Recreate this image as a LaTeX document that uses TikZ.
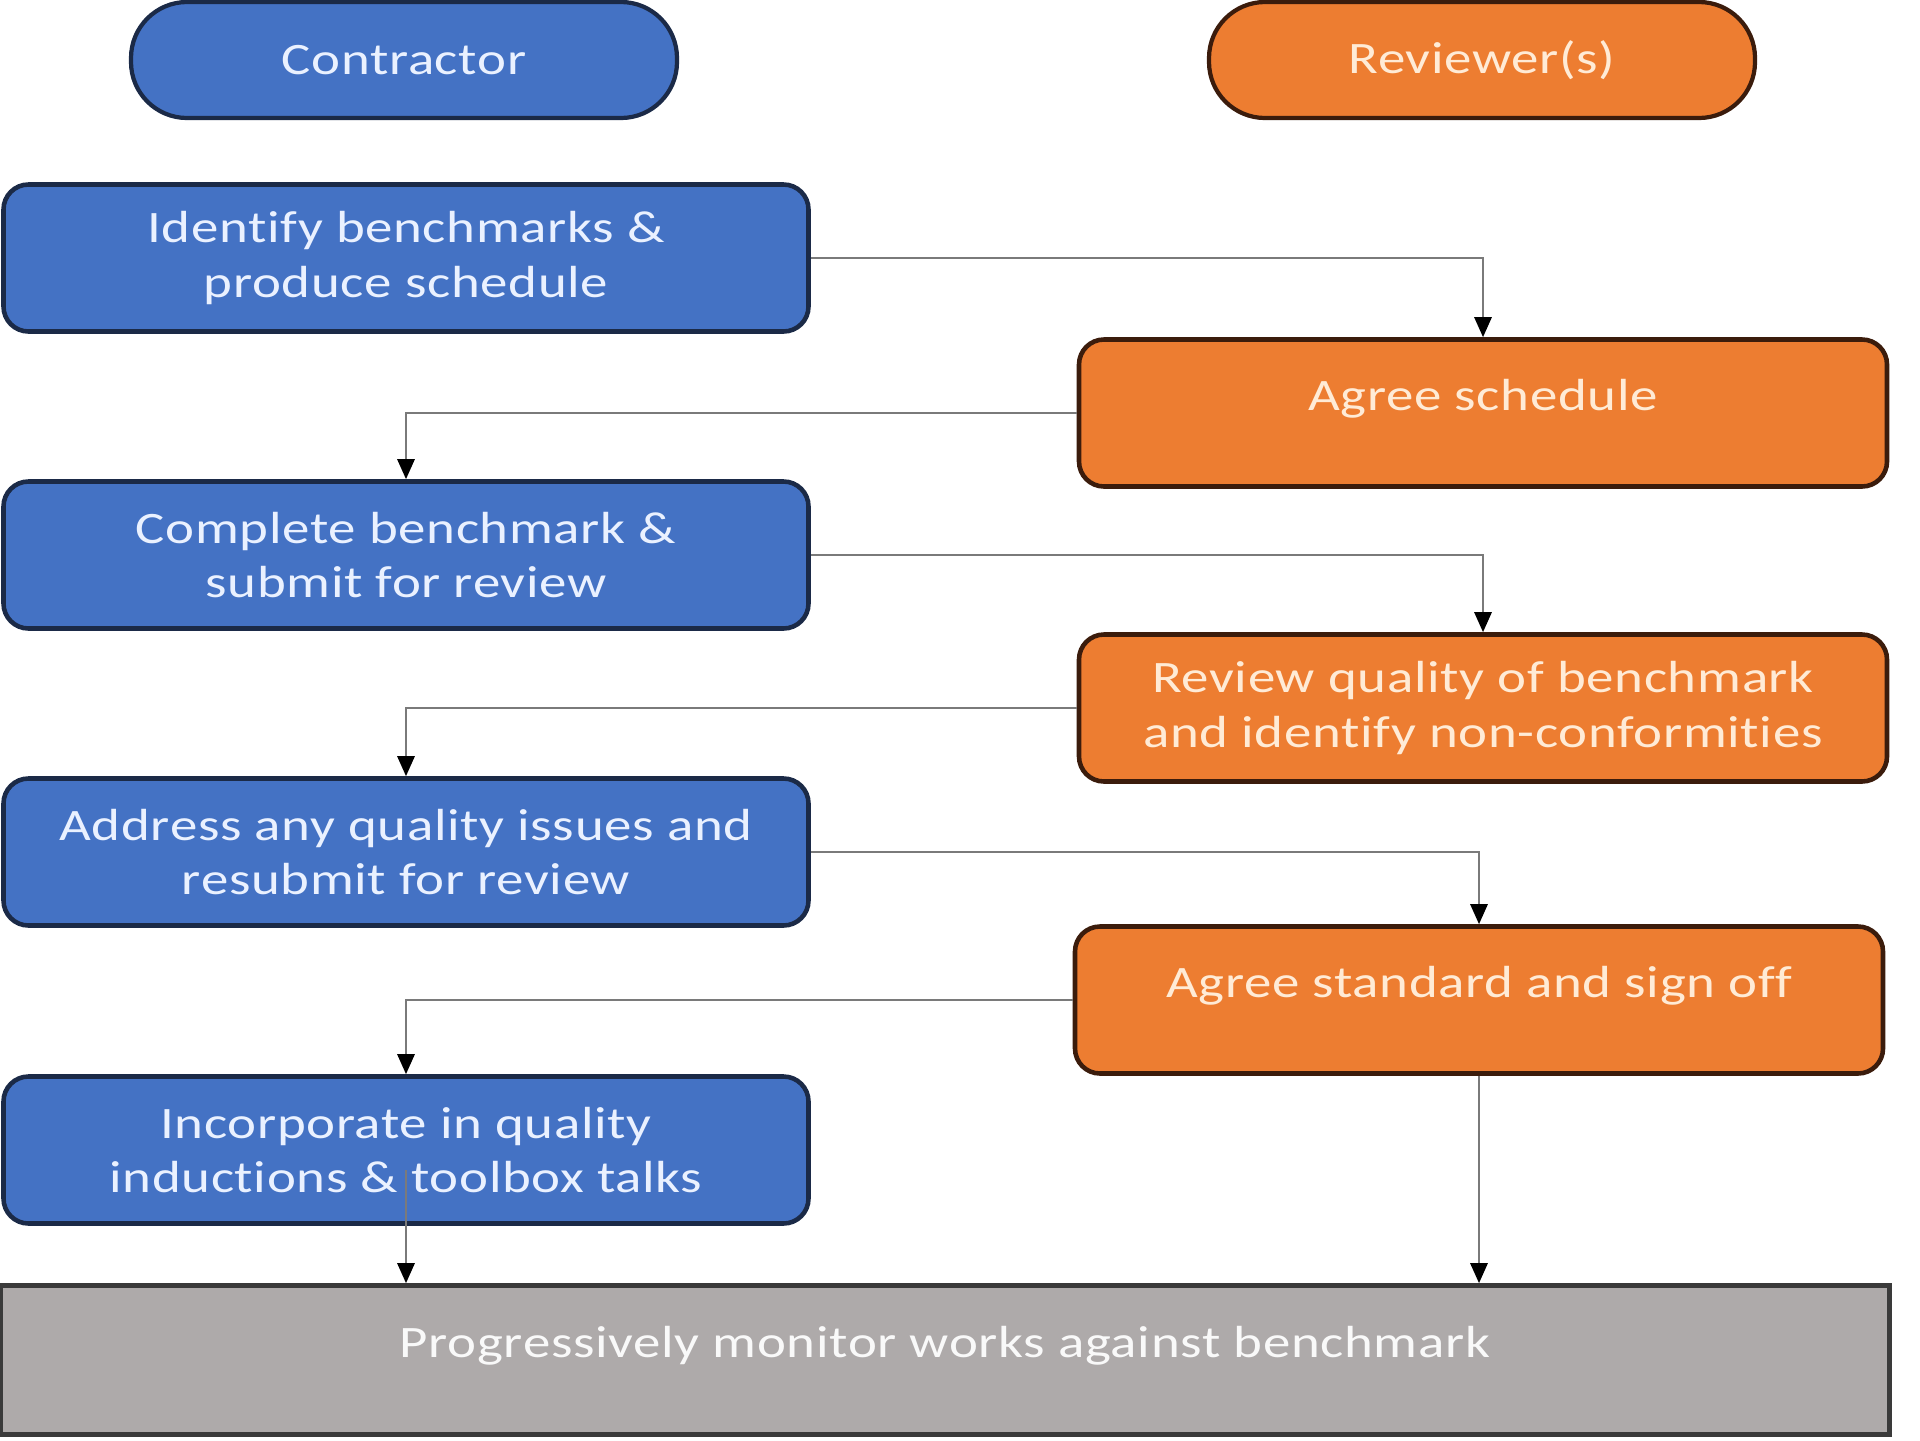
\documentclass[tikz,border=0pt]{standalone}
\usepackage{fontspec}
\setmainfont{Carlito}[FakeStretch=1.22, Ligatures=NoCommon, LetterSpace=1.5]
\usepackage{tikz}
\usetikzlibrary{arrows.meta, calc, positioning}
\definecolor{CBlue}{HTML}{4472C4}
\definecolor{CBlueEdge}{HTML}{1B2A47}
\definecolor{ROrange}{HTML}{ED7D31}
\definecolor{ROrangeEdge}{HTML}{3B1C0C}
\definecolor{MGrey}{HTML}{AEAAAA}
\definecolor{MGreyEdge}{HTML}{3A3A3A}
\definecolor{Wire}{HTML}{7A7A7A}
\definecolor{CText}{HTML}{EAF1FF}
\definecolor{RText}{HTML}{FFEBD6}
\tikzset{
  boxfont/.style={font=\fontsize{12.8pt}{15.4pt}\selectfont, align=center},
  lane/.style={boxfont, rounded corners=0.56cm, minimum width=5.46cm, minimum height=1.16cm, line width=1.2pt},
  cbox/.style={boxfont, rectangle, rounded corners=0.25cm, fill=CBlue, draw=CBlueEdge, text=CText, line width=1.3pt, minimum width=8.05cm, minimum height=1.47cm},
  rbox/.style={boxfont, rectangle, rounded corners=0.25cm, fill=ROrange, draw=ROrangeEdge, text=RText, line width=1.3pt, minimum width=8.08cm, minimum height=1.47cm},
  mbar/.style={boxfont, rectangle, fill=MGrey, draw=MGreyEdge, text=white!93!MGrey, line width=1.3pt, minimum width=18.89cm, minimum height=1.49cm},
  raised/.style={text height=0.3cm, text depth=0.35cm},
  flow/.style={draw=Wire, line width=0.8pt, -{Triangle[length=0.2cm, width=0.17cm, color=black]}},
}

\begin{document}
\begin{tikzpicture}
  \useasboundingbox (0,0) rectangle (19.2,-14.4);

  % Lane headers
  \node[lane, fill=CBlue, draw=CBlueEdge, text=CText] (contractor) at (4.04,-0.60) {Contractor};
  \node[lane, fill=ROrange, draw=ROrangeEdge, text=RText] (reviewer) at (14.82,-0.60) {Reviewer(s)};

  % Contractor steps
  \node[cbox] (identify) at (4.06,-2.58) {Identify benchmarks \&\\produce schedule};
  \node[cbox] (complete) at (4.06,-5.55) {Complete benchmark \&\\submit for review};
  \node[cbox] (address) at (4.06,-8.52) {Address any quality issues and\\resubmit for review};
  \node[cbox] (incorporate) at (4.06,-11.50) {Incorporate in quality\\inductions \& toolbox talks};

  % Reviewer steps
  \node[rbox, raised] (agree) at (14.83,-4.13) {Agree schedule};
  \node[rbox] (review) at (14.83,-7.08) {Review quality of benchmark\\and identify non-conformities};
  \node[rbox, raised] (signoff) at (14.79,-10.00) {Agree standard and sign off};

  % Monitoring bar
  \node[mbar, raised] (monitor) at (9.45,-13.60) {Progressively monitor works against benchmark};

  % Connectors
  \draw[flow] (identify.east) -| (agree.north);
  \draw[flow] (agree.west) -| (complete.north);
  \draw[flow] (complete.east) -| (review.north);
  \draw[flow] (review.west) -| (address.north);
  \draw[flow] (address.east) -| (signoff.north);
  \draw[flow] (signoff.west) -| (incorporate.north);
  \draw[flow] ([yshift=-0.2cm]incorporate.center) -- (incorporate.center |- monitor.north);
  \draw[flow] (signoff.south) -- (signoff.south |- monitor.north);
\end{tikzpicture}
\end{document}
